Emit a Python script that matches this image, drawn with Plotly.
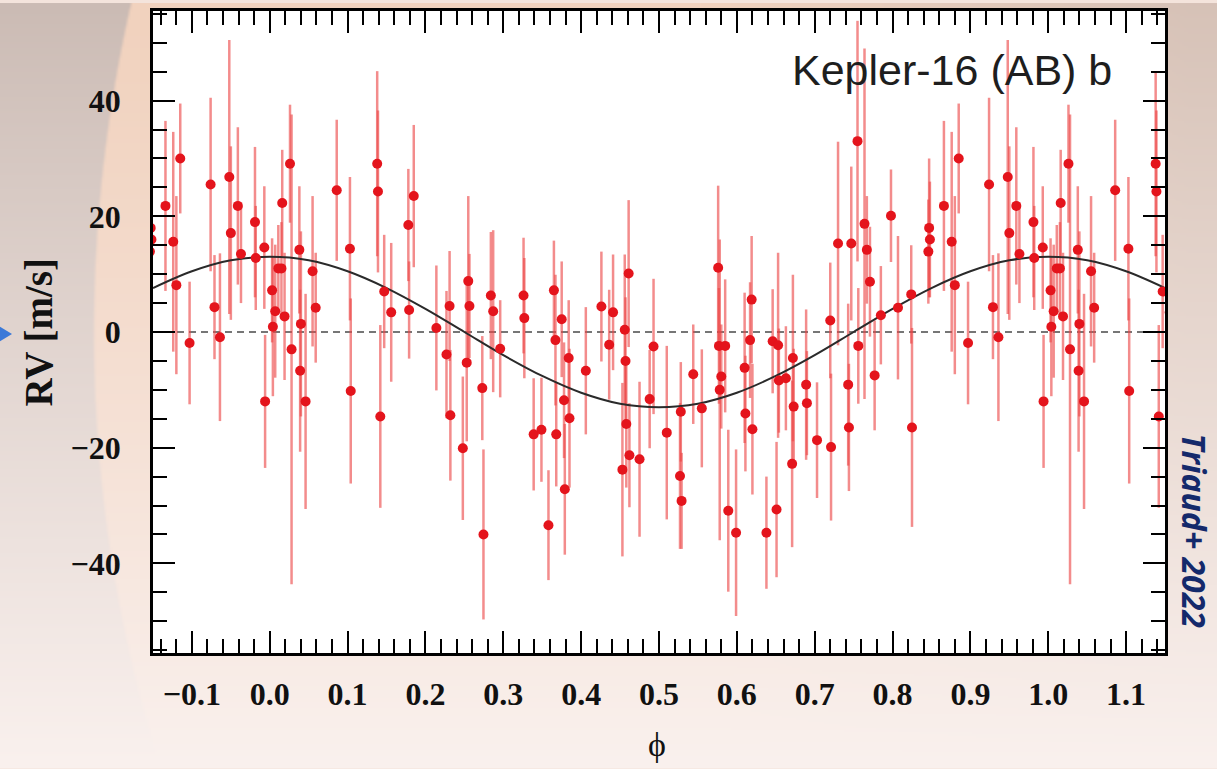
import base64
import struct
import zlib

import numpy as np
import plotly.graph_objects as go

# ---------------- data ----------------
# orbital phase, radial velocity [m/s], 1-sigma error [m/s] (one cycle, -0.15 .. 0.85)
phase = [
    -0.134, -0.124, -0.115, -0.120, -0.103, -0.076, -0.071, -0.064, -0.052, -0.050,
    -0.041, -0.037, -0.019, -0.018, -0.007, -0.006, 0.003, 0.004, 0.007, 0.011,
    0.015, 0.016, 0.019, 0.026, 0.028, 0.038, 0.040, 0.039, 0.046, 0.055, 0.059,
    0.086, 0.103, 0.104, 0.138, 0.139, 0.142, 0.147, 0.156, 0.178, 0.179,
    0.185, 0.214, 0.227, 0.231, 0.232, 0.248, 0.255, 0.2565, 0.253, 0.273,
    0.2745, 0.284, 0.287,
    0.296, 0.326, 0.327, 0.339, 0.349, 0.358, 0.365, 0.367, 0.368, 0.375,
    0.378, 0.379, 0.384, 0.385, 0.406, 0.426, 0.436, 0.441, 0.453, 0.456,
    0.457, 0.458, 0.461, 0.462, 0.475, 0.488, 0.493, 0.510,
    0.528, 0.527, 0.529, 0.544, 0.555, 0.576, 0.577, 0.578, 0.580, 0.585,
    0.589, 0.599, 0.610, 0.611, 0.619, 0.617, 0.620, 0.638, 0.646, 0.653,
    0.651, 0.654, 0.663, 0.672, 0.673, 0.671, 0.689, 0.690, 0.703, 0.720,
    0.721, 0.730,
    0.743, 0.744, 0.747, 0.755, 0.756, 0.764, 0.767, 0.771, 0.777, 0.785,
    0.798, 0.807, 0.824, 0.825, 0.847, 0.848, 0.846,
]
rv = [
    21.8, 15.6, 30.0, 8.1, -1.9, 25.5, 4.3, -0.9, 26.8, 17.1,
    21.8, 13.5, 19.0, 12.8, 14.6, -12.0, 7.2, 0.9, 3.6, 11.0,
    11.0, 22.3, 2.7, 29.1, -3.0, 14.2, 1.4, -6.7, -12.0, 10.5, 4.2,
    24.5, 14.4, -10.2, 29.1, 24.3, -14.6, 7.0, 3.4, 18.5, 3.8,
    23.5, 0.7, -3.9, 4.5, -14.4, -20.1, 8.8, 4.5, -5.3, -9.7,
    -35.0, 6.3, 3.6,
    -2.9, 6.3, 2.4, -17.7, -16.9, -33.4, 7.2, -1.4, -17.7, 2.2,
    -11.8, -27.2, -4.5, -14.9, -6.7, 4.4, -2.2, 3.4, -23.8, 0.4,
    -5.0, -15.9, 10.1, -21.3, -22.0, -11.6, -2.5, -17.4,
    -13.8, -24.9, -29.2, -7.3, -13.2, 11.1, -2.4, -10.0, -7.7, -2.4,
    -30.9, -34.7, -6.2, -14.1, 5.6, -1.4, -16.8, -34.7, -1.6, -2.3,
    -30.7, -8.4, -8.0, -4.5, -12.9, -22.8, -9.1, -12.3, -18.7, 2.0,
    -19.9, 15.3,
    -9.1, -16.5, 15.3, 33.0, -2.4, 18.7, 14.2, 8.7, -7.5, 2.9,
    20.1, 4.2, 6.5, -16.5, 18.0, 16.0, 13.9,
]
rv_err = [
    14.7, 19.0, 9.5, 15.4, 10.6, 15.0, 9.0, 14.5, 23.7, 15.0,
    13.6, 8.5, 13.0, 9.0, 10.6, 11.5, 9.0, 12.0, 11.5, 7.5,
    8.0, 9.2, 11.0, 10.2, 40.6, 11.0, 16.0, 14.0, 18.6, 13.0, 9.5,
    12.2, 12.4, 16.0, 16.0, 14.0, 15.8, 9.8, 12.0, 9.7, 8.4,
    12.3, 10.8, 11.0, 9.5, 11.3, 12.4, 14.7, 9.0, 13.6, 9.0,
    14.7, 11.0, 14.0,
    8.4, 10.0, 10.4, 9.7, 9.0, 9.5, 8.6, 11.3, 9.0, 10.0,
    10.0, 11.3, 10.0, 12.0, 11.0, 9.5, 9.5, 10.0, 15.0, 13.0,
    11.0, 11.0, 12.7, 9.0, 13.4, 8.5, 11.7, 15.0,
    8.6, 12.6, 8.3, 8.6, 10.2, 14.2, 10.0, 26.0, 9.0, 11.5,
    14.0, 14.4, 13.0, 10.0, 11.0, 10.0, 11.3, 9.7, 9.0, 16.0,
    11.7, 9.0, 9.0, 14.4, 10.0, 14.4, 13.0, 9.0, 10.0, 10.0,
    12.7, 17.6,
    14.0, 11.0, 13.3, 20.8, 10.0, 30.3, 9.3, 9.5, 9.5, 8.5,
    8.0, 12.4, 8.5, 17.2, 12.0, 10.0, 9.0,
]

# Keplerian model curve, every 0.05 in phase
model_phase = [-0.15, -0.10, -0.05, 0.00, 0.05, 0.10, 0.15, 0.20, 0.25, 0.30,
               0.35, 0.40, 0.45, 0.50, 0.55, 0.60, 0.65, 0.70, 0.75, 0.80,
               0.85, 0.90, 0.95, 1.00, 1.05, 1.10, 1.15]
model_rv = [7.6, 10.5, 12.4, 13.0, 12.4, 10.5, 7.6, 4.0, 0.0, -4.0,
            -7.6, -10.5, -12.4, -13.0, -12.4, -10.5, -7.6, -4.0, 0.0, 4.0,
            7.6, 10.5, 12.4, 13.0, 12.4, 10.5, 7.6]

title_text = "Kepler-16 (AB) b"
credit_text = "Triaud+ 2022"
x_title = "ϕ"
y_title = "RV [m/s]"

# ---------------- phase-fold repetition ----------------
ph = np.array(phase)
v = np.array(rv)
e = np.array(rv_err)
xs, ys, es = [], [], []
for k in (-1, 0, 1):
    p = ph + k
    m = (p > -0.16) & (p < 1.16)
    xs.extend(p[m]); ys.extend(v[m]); es.extend(e[m])

# ---------------- slide background (gradient image) ----------------
W, H = 1217, 769
S = 2
hh, ww = H // S + 1, W // S + 1
yy, xx = np.mgrid[0:hh, 0:ww].astype(float) * S
t = np.clip(yy / H, 0, 1)[..., None]
top_o = np.array([203, 187, 180], float)
top_p = np.array([241, 210, 190], float)
bot = np.array([250, 241, 238], float)
outer = top_o * (1 - t ** 0.9) + bot * t ** 0.9
peach = top_p * (1 - t ** 1.2) + bot * t ** 1.2
d = np.sqrt((xx - 1583) ** 2 + (yy - 330) ** 2)
inside = np.clip((1490 - d) / 3 + 0.5, 0, 1)
wx = np.clip(1 - (xx - 700) / 700, 0.3, 1)
col = outer + (peach - outer) * (inside * wx)[..., None]
img = np.clip(col, 0, 255).astype(np.uint8)


def make_png(rgb):
    h, w, _ = rgb.shape
    raw = b"".join(b"\x00" + rgb[r].tobytes() for r in range(h))

    def chunk(tag, data):
        c = struct.pack(">I", len(data)) + tag + data
        return c + struct.pack(">I", zlib.crc32(tag + data) & 0xFFFFFFFF)

    return (b"\x89PNG\r\n\x1a\n"
            + chunk(b"IHDR", struct.pack(">IIBBBBB", w, h, 8, 2, 0, 0, 0))
            + chunk(b"IDAT", zlib.compress(raw, 9))
            + chunk(b"IEND", b""))


bg_uri = "data:image/png;base64," + base64.b64encode(make_png(img)).decode()

# plot area in pixels
L, R, T, B = 153, 1165, 8, 653
PW, PH = R - L, B - T


def px(x):
    return (x - L) / PW


def py(y):
    return (B - y) / PH


# ---------------- figure ----------------
fig = go.Figure()

fig.add_trace(go.Scatter(
    x=xs, y=ys, mode="markers",
    marker=dict(size=1, color="rgba(0,0,0,0)"),
    error_y=dict(type="data", array=es, visible=True, color="rgba(236,70,70,0.62)",
                 thickness=2.5, width=0),
    hoverinfo="skip", showlegend=False,
))
fig.add_trace(go.Scatter(
    x=model_phase, y=model_rv, mode="lines",
    line=dict(color="#2a2a2a", width=2, shape="spline", smoothing=1.0),
    showlegend=False,
))
fig.add_trace(go.Scatter(
    x=xs, y=ys, mode="markers",
    marker=dict(size=10, color="#e4141c", line=dict(width=0)),
    showlegend=False,
))

tickfont = dict(family="Liberation Serif", size=32, color="#111111", weight="bold")
axis_common = dict(
    showline=True, linecolor="black", linewidth=2.5, mirror="allticks",
    ticks="inside", tickcolor="black", tickwidth=2, ticklen=22,
    showgrid=False, zeroline=False, tickfont=tickfont,
)
fig.update_xaxes(range=[-0.15, 1.15], tick0=0, dtick=0.1, tickformat=".1f",
                 minor=dict(dtick=0.02, ticks="inside", ticklen=14, tickwidth=2,
                            tickcolor="black", showgrid=False),
                 ticklabelstandoff=11, **axis_common)
fig.update_yaxes(range=[-55.5, 55.5], tick0=0, dtick=20,
                 minor=dict(dtick=5, ticks="inside", ticklen=14, tickwidth=2,
                            tickcolor="black", showgrid=False),
                 ticklabelstandoff=23, **axis_common)

fig.update_layout(
    width=W, height=H,
    margin=dict(l=L, r=W - R, t=T, b=H - B),
    paper_bgcolor="#f4e4dc", plot_bgcolor="white",
    images=[dict(source=bg_uri, xref="paper", yref="paper",
                 x=px(0), y=py(0), sizex=W / PW, sizey=H / PH,
                 xanchor="left", yanchor="top", sizing="stretch", layer="below")],
    shapes=[
        dict(type="rect", xref="paper", yref="paper", x0=0, x1=1, y0=0, y1=1,
             fillcolor="white", line=dict(width=0), layer="below"),
        dict(type="line", xref="paper", yref="y", x0=0, x1=1, y0=0, y1=0,
             line=dict(color="#4a4a4a", width=1.5, dash="7px,5px"), layer="below"),
        dict(type="path", xref="paper", yref="paper",
             path=f"M {px(-2)},{py(324)} L {px(12)},{py(332.5)} L {px(-2)},{py(341)} Z",
             fillcolor="#3b79d8", line=dict(width=0)),
    ],
    annotations=[
        dict(text=title_text, x=px(1114), y=py(67), xref="paper", yref="paper",
             xanchor="right", yanchor="middle", showarrow=False,
             font=dict(family="Liberation Sans", size=43, color="#1e1e1e")),
        dict(text=y_title, x=px(38), y=py(331), xref="paper", yref="paper",
             xanchor="center", yanchor="middle", textangle=-90, showarrow=False,
             font=dict(family="Liberation Serif", size=39, color="#111111", weight="bold")),
        dict(text=x_title, x=px(657), y=py(745), xref="paper", yref="paper",
             xanchor="center", yanchor="middle", showarrow=False,
             font=dict(family="Liberation Serif", size=34, color="#111111")),
        dict(text=f"<i><b>{credit_text}</b></i>", x=px(1194), y=py(530),
             xref="paper", yref="paper", xanchor="center", yanchor="middle",
             textangle=90, showarrow=False,
             font=dict(family="Open Sans", size=32, color="#14296b")),
    ],
)

fig.write_html("out.html",
               config={"displayModeBar": False},
               post_script="document.body.style.margin='0';document.body.style.padding='0';")
